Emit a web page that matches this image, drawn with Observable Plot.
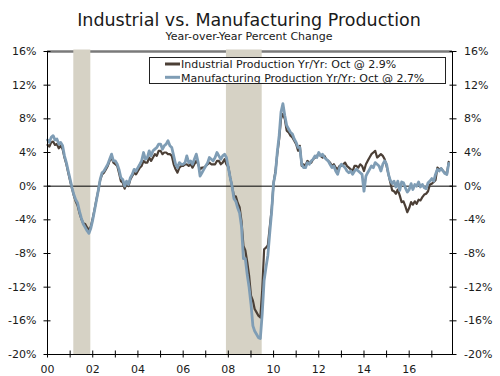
<!DOCTYPE html>
<html>
<head>
<meta charset="utf-8">
<script src="https://cdn.jsdelivr.net/npm/d3@7"></script>
<script src="https://cdn.jsdelivr.net/npm/@observablehq/plot@0.6"></script>
<style>
  body { margin: 0; background: #fff; }
  #wrap { position: relative; width: 500px; height: 376px; overflow: hidden; font-family: Verdana, "DejaVu Sans", sans-serif; }
  #head { position: absolute; left: 0; top: 0; }
  #chart { position: absolute; left: 0; top: 44px; }
  #legend { position: absolute; left: 149px; top: 57px; }
</style>
</head>
<body>
<div id="wrap">
  <svg id="head" width="500" height="44">
    <text id="title" x="249" y="26" text-anchor="middle" font-size="17.5" fill="#1a1a1a"></text>
    <text id="subtitle" x="249" y="40" text-anchor="middle" font-size="11" fill="#1a1a1a"></text>
  </svg>
  <div id="chart"></div>
  <svg id="legend" width="298" height="28"></svg>
</div>
<script>
const titleText = "Industrial vs. Manufacturing Production";
const subtitleText = "Year-over-Year Percent Change";
const seriesNames = ["Industrial Production Yr/Yr: Oct @ 2.9%", "Manufacturing Production Yr/Yr: Oct @ 2.7%"];
const seriesColors = ["#4b3f36", "#7f9db5"];

// Monthly year-over-year % change, Jan 2000 .. Oct 2017
const industrial = [
  4.9, 4.7, 5.2, 5.3, 4.9, 5.0, 4.5, 4.8, 4.4, 3.4, 2.6, 1.6,
  0.6, -0.3, -1.1, -1.8, -2.3, -3.2, -3.9, -4.4, -4.5, -4.9, -5.2, -4.8,
  -3.8, -2.7, -1.6, -0.5, 0.7, 1.4, 1.6, 2.0, 2.4, 3.0, 3.4, 2.8,
  2.6, 2.4, 1.6, 0.6, 0.4, -0.3, 0.3, 0.0, 0.8, 1.2, 1.6, 1.4,
  1.8, 2.2, 2.4, 3.0, 2.8, 2.8, 3.4, 3.0, 3.4, 3.8, 3.6, 4.2,
  4.2, 3.8, 4.0, 4.0, 3.8, 3.8, 3.6, 2.6, 2.0, 1.6, 2.2, 2.4,
  2.4, 2.6, 2.6, 2.4, 2.6, 2.2, 2.6, 3.0, 2.6, 2.0, 2.2, 2.2,
  2.4, 2.6, 2.8, 2.6, 2.6, 2.6, 3.0, 3.0, 2.6, 2.8, 3.2, 2.6,
  2.3, 1.0, 0.0, -1.2, -1.2, -2.0, -2.5, -4.2, -7.1, -7.6, -9.0, -10.6,
  -13.0, -13.6, -14.6, -15.0, -15.4, -15.6, -12.4, -7.5, -7.3, -7.0, -4.8, -2.8,
  0.4, 1.8, 3.8, 5.6, 8.0, 8.6, 8.0, 6.6, 6.4, 6.0, 5.8, 5.4,
  5.0, 4.2, 4.8, 2.4, 2.6, 2.4, 3.0, 2.8, 2.8, 3.2, 3.4, 3.6,
  3.8, 3.6, 3.4, 3.6, 3.2, 3.0, 2.8, 2.4, 2.6, 2.2, 2.0, 2.4,
  2.4, 2.6, 2.8, 2.4, 2.2, 2.0, 1.8, 2.4, 2.4, 2.2, 2.6, 2.4,
  1.8, 2.6, 3.0, 3.4, 3.8, 4.0, 4.2, 3.4, 3.6, 3.8, 3.6, 3.2,
  2.4, 1.4, 0.5, -0.5, -0.6, -0.9, -0.4, -1.1, -1.9, -1.8, -2.4, -3.1,
  -2.6, -1.9, -2.2, -1.8, -2.1, -1.6, -1.7, -1.3, -1.0, -0.9, -0.6, 0.2,
  0.3, 0.5, 0.7, 2.2, 2.0, 2.1, 1.8, 1.6, 1.4, 2.9
];
const manufacturing = [
  5.5, 5.2, 5.8, 6.0, 5.5, 5.6, 5.0, 5.2, 4.8, 3.6, 2.8, 1.8,
  0.8, -0.2, -1.0, -1.6, -2.0, -3.0, -3.8, -4.5, -4.9, -5.3, -5.6, -5.0,
  -4.0, -2.8, -1.7, -0.5, 0.8, 1.6, 1.8, 2.2, 2.6, 3.2, 3.8, 3.0,
  3.0, 2.6, 2.0, 1.0, 0.8, 0.0, 0.6, 0.2, 1.0, 1.4, 2.0, 1.8,
  2.2, 2.6, 3.0, 4.0, 3.2, 3.4, 4.2, 3.6, 4.2, 4.4, 4.6, 5.0,
  5.0, 4.4, 4.8, 5.0, 5.4, 4.8, 4.6, 3.6, 2.6, 2.2, 2.8, 2.6,
  2.6, 2.8, 3.6, 2.8, 3.0, 2.6, 3.2, 3.8, 2.8, 1.2, 1.6, 2.0,
  2.4, 2.8, 3.4, 3.2, 3.0, 3.4, 4.0, 3.6, 3.2, 3.6, 3.8, 3.4,
  2.2, 1.0, 0.0, -1.5, -1.8, -2.6, -3.2, -4.8, -8.6, -8.6, -10.5, -12.0,
  -14.0, -16.6, -17.2, -17.6, -18.0, -18.1, -15.2, -11.2, -9.6, -8.2, -5.5, -3.0,
  0.4, 1.6, 4.0, 6.0, 8.8, 9.8, 8.4, 7.2, 6.8, 6.4, 6.2, 5.6,
  5.2, 4.6, 4.6, 2.6, 2.2, 2.2, 2.8, 2.6, 3.0, 3.2, 3.6, 3.4,
  4.0, 3.6, 3.8, 3.4, 3.2, 3.0, 2.6, 2.2, 2.4, 1.8, 1.4, 2.2,
  2.6, 2.4, 2.2, 1.8, 1.6, 1.8, 1.4, 1.8, 2.0, 1.8, 1.6, 1.4,
  -0.6, 1.2, 1.6, 2.0, 2.4, 2.2, 2.8, 2.6, 2.4, 1.8, 2.6, 3.0,
  2.6, 1.4, 0.7, 0.3, 0.6, -0.1, 0.6, -0.5, 0.5, 0.4, -0.2, -0.7,
  -0.4, 0.3, -0.4, 0.2, 0.0, 0.5, -0.1, 0.2, -0.2, -0.3, 0.4, 0.6,
  0.9, 0.6, 1.4, 2.0, 1.8, 2.1, 1.8, 1.5, 1.4, 2.7
];
const recessionStarts = ["2001-03-01", "2007-12-01"];
const recessionEnds = ["2001-12-01", "2009-07-01"];
const yTicks = [-20, -16, -12, -8, -4, 0, 4, 8, 12, 16];
const xTickYears = d3.range(2000, 2018);

const monthDate = i => new Date(Date.UTC(2000, i, 1));
const indData = industrial.map((v, i) => ({date: monthDate(i), value: v}));
const mfgData = manufacturing.map((v, i) => ({date: monthDate(i), value: v}));
const recessions = recessionStarts.map((s, i) => ({start: new Date(s), end: new Date(recessionEnds[i])}));
const xTicks = xTickYears.map(y => new Date(Date.UTC(y, 0, 1)));
const x0 = new Date(Date.UTC(2000, 0, 1));
const x1 = new Date(Date.UTC(2017, 11, 1));

document.getElementById("title").textContent = titleText;
document.getElementById("subtitle").textContent = subtitleText;

const chart = Plot.plot({
  width: 500,
  height: 332,
  marginLeft: 47,
  marginRight: 48,
  marginTop: 7,
  marginBottom: 22,
  style: {fontFamily: "Verdana, 'DejaVu Sans', sans-serif", fontSize: "11px", color: "#1a1a1a", background: "transparent", overflow: "visible"},
  x: {type: "utc", domain: [x0, x1]},
  y: {domain: [-20, 16]},
  marks: [
    Plot.ruleY([16], {stroke: "#7a7a7a", strokeWidth: 2.5}),
    Plot.rect(recessions, {x1: "start", x2: "end", fill: "#d6d2c5", insetTop: -1.5}),
    Plot.ruleY([0], {stroke: "#000", strokeWidth: 1}),
    Plot.line(indData, {x: "date", y: "value", stroke: seriesColors[0], strokeWidth: 2.2}),
    Plot.line(mfgData, {x: "date", y: "value", stroke: seriesColors[1], strokeWidth: 2.8}),
    Plot.ruleX([x0], {stroke: "#000", strokeWidth: 1}),
    Plot.ruleX([x1], {stroke: "#000", strokeWidth: 1}),
    Plot.ruleY([-20], {stroke: "#000", strokeWidth: 1}),
    Plot.axisY({anchor: "left", ticks: yTicks, tickSize: 7, dx: 3.5, tickPadding: 7.5, tickFormat: d => d + "%", label: null, stroke: "#000"}),
    Plot.axisY({anchor: "right", ticks: yTicks, tickSize: 7, dx: -3.5, tickPadding: 8, tickFormat: d => d + "%", label: null, stroke: "#000"}),
    Plot.axisX({anchor: "bottom", ticks: xTicks, tickSize: 7, dy: -3.5, tickPadding: 7.5, label: null, stroke: "#000",
      tickFormat: d => d.getUTCFullYear() % 2 === 0 ? String(d.getUTCFullYear() % 100).padStart(2, "0") : ""})
  ]
});
document.getElementById("chart").appendChild(chart);

// legend
const lg = d3.select("#legend");
lg.append("rect").attr("x", 0.5).attr("y", 0.5).attr("width", 296).attr("height", 26)
  .attr("fill", "#fff").attr("stroke", "#222").attr("stroke-width", 1);
seriesNames.forEach((name, i) => {
  const cy = 7 + i * 13.3;
  lg.append("line").attr("x1", 16).attr("x2", 31).attr("y1", cy).attr("y2", cy)
    .attr("stroke", seriesColors[i]).attr("stroke-width", 3);
  lg.append("text").attr("x", 32).attr("y", cy + 4.2).attr("font-size", 11)
    .attr("font-family", "Verdana, 'DejaVu Sans', sans-serif").attr("fill", "#1a1a1a").text(name);
});
</script>
</body>
</html>
